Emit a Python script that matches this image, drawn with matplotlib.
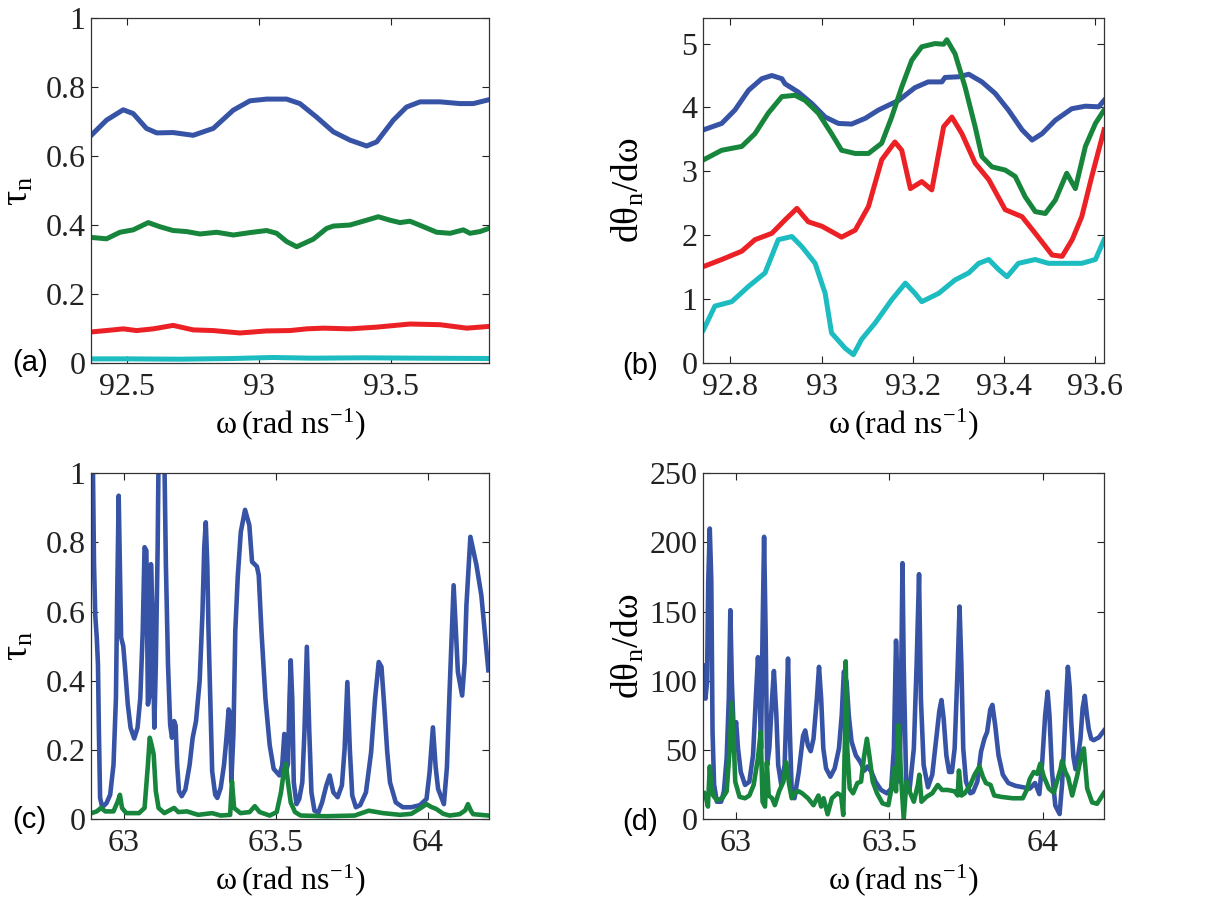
import numpy as np
import matplotlib
matplotlib.use('Agg')
import matplotlib.pyplot as plt
from matplotlib.ticker import FormatStrFormatter

plt.rcParams['font.family'] = ['Liberation Serif', 'DejaVu Serif']
plt.rcParams['mathtext.default'] = 'regular'
plt.rcParams['mathtext.fontset'] = 'custom'
plt.rcParams['mathtext.rm'] = 'Liberation Serif'

BLUE = '#3753a5'
GREEN = '#17853b'
RED = '#ec2125'
CYAN = '#1cbcc0'

# ---- panel (a): transmission eigenvalues near 93 rad/ns
a_blue_x = [92.365, 92.423, 92.486, 92.524, 92.574, 92.613, 92.675, 92.751, 92.827, 92.903, 92.966,
            93.029, 93.105, 93.155, 93.218, 93.282, 93.345, 93.408, 93.446, 93.509, 93.559, 93.610,
            93.686, 93.761, 93.812, 93.870]
a_blue_y = [0.660, 0.704, 0.734, 0.723, 0.680, 0.667, 0.668, 0.660, 0.680, 0.733, 0.760,
            0.765, 0.765, 0.752, 0.713, 0.670, 0.646, 0.629, 0.641, 0.704, 0.742, 0.757,
            0.757, 0.752, 0.752, 0.763]
a_green_x = [92.365, 92.423, 92.474, 92.524, 92.581, 92.625, 92.675, 92.726, 92.777, 92.840, 92.903,
             92.966, 93.029, 93.067, 93.105, 93.143, 93.206, 93.256, 93.282, 93.345, 93.408, 93.452,
             93.496, 93.534, 93.572, 93.623, 93.673, 93.724, 93.774, 93.799, 93.837, 93.870]
a_green_y = [0.364, 0.360, 0.379, 0.386, 0.407, 0.395, 0.384, 0.381, 0.374, 0.379, 0.371,
             0.378, 0.384, 0.376, 0.352, 0.337, 0.359, 0.390, 0.397, 0.400, 0.414, 0.424,
             0.414, 0.407, 0.411, 0.395, 0.379, 0.376, 0.386, 0.376, 0.381, 0.390]
a_red_x = [92.365, 92.448, 92.486, 92.537, 92.600, 92.675, 92.751, 92.827, 92.928, 93.029, 93.117,
           93.181, 93.244, 93.345, 93.446, 93.572, 93.686, 93.787, 93.870]
a_red_y = [0.090, 0.096, 0.099, 0.094, 0.099, 0.109, 0.096, 0.094, 0.087, 0.093, 0.094,
           0.099, 0.101, 0.099, 0.104, 0.113, 0.111, 0.101, 0.106]
a_cyan_x = [92.365, 92.5, 92.7, 92.9, 93.05, 93.2, 93.4, 93.6, 93.87]
a_cyan_y = [0.012, 0.012, 0.011, 0.013, 0.016, 0.014, 0.015, 0.014, 0.013]

# ---- panel (b): delay times near 93 rad/ns
b_blue_x = [92.741, 92.781, 92.810, 92.840, 92.869, 92.891, 92.913, 92.920, 92.949, 92.979, 93.008,
            93.037, 93.066, 93.096, 93.125, 93.169, 93.205, 93.234, 93.264, 93.271, 93.301, 93.323,
            93.352, 93.381, 93.410, 93.440, 93.462, 93.484, 93.513, 93.549, 93.579, 93.608, 93.620]
b_blue_y = [3.65, 3.75, 3.96, 4.27, 4.45, 4.50, 4.45, 4.37, 4.24, 4.06, 3.85,
            3.75, 3.74, 3.83, 3.96, 4.11, 4.31, 4.40, 4.40, 4.47, 4.48, 4.52,
            4.40, 4.22, 3.96, 3.65, 3.49, 3.59, 3.80, 3.98, 4.02, 4.01, 4.11]
b_green_x = [92.741, 92.781, 92.825, 92.854, 92.883, 92.913, 92.942, 92.964, 92.993, 93.022, 93.044,
             93.074, 93.103, 93.132, 93.154, 93.176, 93.198, 93.220, 93.249, 93.268, 93.275, 93.293,
             93.315, 93.337, 93.352, 93.374, 93.403, 93.425, 93.447, 93.469, 93.491, 93.513, 93.538,
             93.557, 93.579, 93.601, 93.620]
b_green_y = [3.18, 3.33, 3.39, 3.59, 3.91, 4.17, 4.19, 4.11, 3.91, 3.59, 3.33,
             3.28, 3.28, 3.44, 3.85, 4.32, 4.74, 4.95, 5.00, 4.99, 5.06, 4.84,
             4.32, 3.70, 3.23, 3.07, 3.02, 2.92, 2.60, 2.37, 2.34, 2.55, 2.97,
             2.73, 3.39, 3.75, 3.96]
b_red_x = [92.741, 92.781, 92.825, 92.854, 92.891, 92.920, 92.946, 92.971, 93.001, 93.044, 93.074,
           93.103, 93.132, 93.161, 93.176, 93.195, 93.220, 93.242, 93.268, 93.286, 93.308, 93.337,
           93.367, 93.403, 93.440, 93.469, 93.506, 93.528, 93.550, 93.571, 93.593, 93.620]
b_red_y = [1.51, 1.62, 1.75, 1.93, 2.03, 2.24, 2.42, 2.21, 2.14, 1.97, 2.08,
           2.45, 3.18, 3.46, 3.33, 2.73, 2.84, 2.71, 3.70, 3.85, 3.59, 3.13,
           2.87, 2.40, 2.29, 2.03, 1.69, 1.67, 1.93, 2.29, 2.92, 3.65]
b_cyan_x = [92.741, 92.766, 92.803, 92.840, 92.876, 92.905, 92.935, 92.957, 92.986, 93.008, 93.022,
            93.052, 93.070, 93.088, 93.118, 93.154, 93.184, 93.205, 93.220, 93.257, 93.293, 93.323,
            93.345, 93.367, 93.389, 93.407, 93.432, 93.469, 93.498, 93.535, 93.571, 93.601, 93.620]
b_cyan_y = [0.52, 0.89, 0.96, 1.20, 1.41, 1.93, 1.98, 1.82, 1.56, 1.09, 0.47,
            0.23, 0.13, 0.37, 0.63, 0.99, 1.25, 1.09, 0.96, 1.09, 1.30, 1.41,
            1.56, 1.62, 1.46, 1.35, 1.56, 1.62, 1.56, 1.56, 1.56, 1.62, 1.93]

# ---- panel (c): transmission eigenvalues near 63.5 rad/ns
c_blue_x = [62.899, 62.903, 62.907, 62.912, 62.916, 62.919, 62.923, 62.930, 62.944, 62.956, 62.967,
            62.975, 62.979, 62.984, 62.988, 62.992, 62.999, 63.004, 63.014, 63.023, 63.035, 63.046,
            63.055, 63.063, 63.069, 63.075, 63.080, 63.086, 63.090, 63.095, 63.101, 63.106, 63.112,
            63.115, 63.125, 63.134, 63.139, 63.146, 63.153, 63.159, 63.166, 63.171, 63.176, 63.182,
            63.191, 63.203, 63.217, 63.227, 63.238, 63.250, 63.259, 63.265, 63.270, 63.275, 63.279,
            63.286, 63.291, 63.301, 63.308, 63.319, 63.330, 63.338, 63.345, 63.350, 63.354, 63.361,
            63.367, 63.375, 63.385, 63.399, 63.413, 63.422, 63.438, 63.444, 63.453, 63.466, 63.480,
            63.493, 63.512, 63.521, 63.528, 63.533, 63.540, 63.545, 63.549, 63.554, 63.559, 63.568,
            63.577, 63.587, 63.594, 63.602, 63.610, 63.617, 63.627, 63.640, 63.652, 63.666, 63.677,
            63.689, 63.703, 63.717, 63.726, 63.735, 63.743, 63.751, 63.763, 63.777, 63.796, 63.813,
            63.826, 63.838, 63.847, 63.856, 63.866, 63.875, 63.894, 63.917, 63.945, 63.973, 63.995,
            64.005, 64.016, 64.025, 64.033, 64.052, 64.062, 64.071, 64.084, 64.091, 64.098, 64.112,
            64.120, 64.126, 64.139, 64.159, 64.175, 64.198]
c_blue_y = [1.05, 0.737, 0.59, 0.525, 0.447, 0.254, 0.061, 0.034, 0.046, 0.07, 0.157,
            0.35, 0.64, 0.935, 0.737, 0.525, 0.50, 0.447, 0.331, 0.264, 0.233, 0.264,
            0.35, 0.544, 0.786, 0.776, 0.331, 0.36, 0.737, 0.592, 0.264, 0.447, 0.786,
            1.05, 1.20, 1.05, 0.737, 0.447, 0.273, 0.235, 0.283, 0.27, 0.157, 0.080,
            0.066, 0.085, 0.157, 0.235, 0.283, 0.40, 0.592, 0.786, 0.858, 0.737, 0.544,
            0.302, 0.138, 0.07, 0.061, 0.09, 0.157, 0.235, 0.317, 0.305, 0.109, 0.25,
            0.544, 0.70, 0.83, 0.894, 0.85, 0.744, 0.73, 0.705, 0.541, 0.348, 0.213,
            0.145, 0.126, 0.155, 0.246, 0.135, 0.16, 0.348, 0.459, 0.348, 0.106, 0.043,
            0.058, 0.106, 0.251, 0.498, 0.251, 0.077, 0.024, 0.019, 0.048, 0.097, 0.126,
            0.077, 0.063, 0.097, 0.203, 0.396, 0.203, 0.068, 0.034, 0.04, 0.077, 0.193,
            0.348, 0.454, 0.44, 0.328, 0.193, 0.106, 0.048, 0.034, 0.034, 0.04, 0.058,
            0.135, 0.265, 0.15, 0.087, 0.043, 0.15, 0.377, 0.676, 0.55, 0.425, 0.357,
            0.45, 0.618, 0.816, 0.734, 0.647, 0.43]
c_green_x = [62.895, 62.912, 62.926, 62.940, 62.967, 62.981, 62.988, 62.995, 63.009, 63.051, 63.069,
             63.080, 63.086, 63.092, 63.099, 63.106, 63.115, 63.134, 63.166, 63.180, 63.208, 63.245,
             63.291, 63.319, 63.350, 63.356, 63.363, 63.384, 63.414, 63.431, 63.447, 63.480, 63.503,
             63.517, 63.526, 63.533, 63.540, 63.549, 63.563, 63.582, 63.666, 63.759, 63.805, 63.852,
             63.908, 63.945, 63.973, 63.995, 64.010, 64.027, 64.050, 64.071, 64.104, 64.122, 64.131,
             64.140, 64.148, 64.198]
c_green_y = [0.017, 0.022, 0.032, 0.022, 0.022, 0.051, 0.070, 0.032, 0.017, 0.017, 0.032,
             0.157, 0.235, 0.215, 0.186, 0.080, 0.032, 0.017, 0.032, 0.020, 0.022, 0.012,
             0.017, 0.010, 0.012, 0.109, 0.032, 0.017, 0.020, 0.037, 0.020, 0.010, 0.020,
             0.077, 0.135, 0.159, 0.106, 0.048, 0.020, 0.010, 0.008, 0.010, 0.024, 0.017,
             0.012, 0.015, 0.030, 0.043, 0.035, 0.029, 0.015, 0.010, 0.014, 0.025, 0.043,
             0.025, 0.014, 0.010]

# ---- panel (d): delay times near 63.5 rad/ns
d_blue_x = [62.896, 62.901, 62.906, 62.910, 62.915, 62.920, 62.924, 62.929, 62.938, 62.952, 62.961,
            62.970, 62.977, 62.982, 62.987, 62.993, 63.001, 63.007, 63.016, 63.030, 63.044, 63.056,
            63.065, 63.072, 63.078, 63.082, 63.087, 63.092, 63.097, 63.102, 63.109, 63.118, 63.124,
            63.132, 63.138, 63.148, 63.159, 63.166, 63.170, 63.176, 63.182, 63.191, 63.205, 63.219,
            63.226, 63.235, 63.244, 63.253, 63.264, 63.271, 63.278, 63.285, 63.294, 63.308, 63.322,
            63.336, 63.345, 63.352, 63.361, 63.368, 63.377, 63.391, 63.405, 63.419, 63.429, 63.442,
            63.455, 63.473, 63.492, 63.506, 63.515, 63.522, 63.529, 63.534, 63.538, 63.543, 63.547,
            63.555, 63.566, 63.580, 63.589, 63.597, 63.603, 63.612, 63.626, 63.640, 63.653, 63.663,
            63.670, 63.677, 63.686, 63.695, 63.704, 63.713, 63.723, 63.729, 63.735, 63.741, 63.750,
            63.764, 63.773, 63.787, 63.799, 63.810, 63.819, 63.829, 63.836, 63.845, 63.856, 63.870,
            63.888, 63.911, 63.935, 63.958, 63.975, 63.989, 63.998, 64.008, 64.016, 64.022, 64.030,
            64.041, 64.055, 64.063, 64.068, 64.076, 64.082, 64.088, 64.093, 64.100, 64.107, 64.115,
            64.123, 64.130, 64.137, 64.144, 64.150, 64.158, 64.166, 64.183, 64.200]
d_blue_y = [111, 87, 99, 172, 210, 172, 63, 25, 12.5, 12.5, 20,
            44, 87, 151, 99, 63, 70, 51, 34, 24.6, 27, 46,
            87, 117, 87, 51, 135, 204, 135, 39, 51, 87, 107,
            75, 39, 24.6, 39, 87, 116, 63, 20, 15, 34, 60,
            64, 53, 49, 58, 87, 110, 87, 51, 36.6, 30.6, 36.6,
            51, 75, 106.6, 99, 75, 56, 46, 41.5, 35, 38, 34,
            27, 21, 18.6, 22, 51, 129, 87, 27, 87, 185, 111,
            27, 21, 51, 111, 177, 87, 39, 23, 32, 58, 78,
            86, 73, 46, 34, 34, 51, 111, 153.6, 111, 51, 27,
            18.6, 19.5, 27, 48.7, 58, 63, 79, 82.5, 68, 46, 32,
            26, 24, 23, 22, 26, 18, 40, 75, 92, 75, 35,
            9.7, 3.6, 25, 46, 85, 110, 95, 70, 45, 36, 45,
            58, 80, 89, 75, 65, 58, 57, 59, 64]
d_green_x = [62.897, 62.903, 62.909, 62.915, 62.920, 62.926, 62.938, 62.956, 62.970, 62.980, 62.986,
             62.992, 62.998, 63.012, 63.030, 63.044, 63.058, 63.072, 63.081, 63.087, 63.095, 63.101,
             63.107, 63.118, 63.127, 63.141, 63.155, 63.164, 63.174, 63.182, 63.191, 63.205, 63.216,
             63.235, 63.253, 63.269, 63.278, 63.286, 63.299, 63.313, 63.331, 63.343, 63.350, 63.356,
             63.358, 63.363, 63.371, 63.382, 63.396, 63.408, 63.417, 63.427, 63.435, 63.446, 63.460,
             63.478, 63.497, 63.509, 63.515, 63.522, 63.530, 63.538, 63.547, 63.556, 63.566, 63.580,
             63.593, 63.598, 63.605, 63.621, 63.640, 63.658, 63.672, 63.690, 63.713, 63.723, 63.727,
             63.735, 63.746, 63.764, 63.778, 63.794, 63.805, 63.815, 63.830, 63.842, 63.865, 63.902,
             63.935, 63.948, 63.958, 63.971, 63.982, 63.992, 64.003, 64.020, 64.036, 64.050, 64.058,
             64.063, 64.074, 64.083, 64.096, 64.112, 64.125, 64.134, 64.140, 64.145, 64.161, 64.177,
             64.200]
d_green_y = [18.6, 15, 9, 38, 24.6, 17, 13.7, 15, 20, 51, 84,
             63, 27, 16, 15, 17, 24.6, 44, 63, 12.5, 9, 41,
             17, 15, 10, 20, 27, 41, 24.6, 15, 18.6, 20, 18.6,
             15, 10, 17, 9, 15, 3.4, 15, 18.6, 17, 2.9, 63,
             114, 51, 22, 18.6, 26, 27, 44, 58, 46, 27, 18.6,
             11.3, 10, 24.6, 36.6, 20, 68, 32, 0, 27, 20, 12.5,
             24.6, 32, 12.5, 16, 18.6, 24.6, 21, 21, 20, 17, 35,
             17, 18.6, 24.6, 32, 38, 30.6, 26, 24.6, 17, 16, 15,
             15, 21, 29, 34, 32.6, 40, 31, 22, 19, 30, 36,
             42, 34, 30, 17, 31, 45, 51, 35, 22, 12, 11,
             19]

fig = plt.figure(figsize=(12.31, 9.10), dpi=100)
ax_a = fig.add_axes([0.0739, 0.6011, 0.3233, 0.3791])
ax_b = fig.add_axes([0.5711, 0.6011, 0.3258, 0.3791])
ax_c = fig.add_axes([0.0739, 0.1000, 0.3233, 0.3800])
ax_d = fig.add_axes([0.5711, 0.1000, 0.3258, 0.3800])

lw_top = 3.6
lw_bot = 3.3
ax_a.plot(a_blue_x, a_blue_y, color=BLUE, lw=lw_top)
ax_a.plot(a_green_x, a_green_y, color=GREEN, lw=lw_top)
ax_a.plot(a_red_x, a_red_y, color=RED, lw=lw_top)
ax_a.plot(a_cyan_x, a_cyan_y, color=CYAN, lw=lw_top)

ax_b.plot(b_blue_x, b_blue_y, color=BLUE, lw=lw_top)
ax_b.plot(b_green_x, b_green_y, color=GREEN, lw=lw_top)
ax_b.plot(b_red_x, b_red_y, color=RED, lw=lw_top)
ax_b.plot(b_cyan_x, b_cyan_y, color=CYAN, lw=lw_top)

ax_c.plot(c_blue_x, c_blue_y, color=BLUE, lw=lw_bot)
ax_c.plot(c_green_x, c_green_y, color=GREEN, lw=lw_bot)

ax_d.plot(d_blue_x, d_blue_y, color=BLUE, lw=lw_bot)
ax_d.plot(d_green_x, d_green_y, color=GREEN, lw=lw_bot)

ax_a.set_xlim(92.364, 93.871)
ax_a.set_ylim(0, 1)
ax_a.set_xticks([92.5, 93, 93.5])
ax_a.set_yticks([0, 0.2, 0.4, 0.6, 0.8, 1])

ax_b.set_xlim(92.74, 93.62)
ax_b.set_ylim(0, 5.4)
ax_b.set_xticks([92.8, 93, 93.2, 93.4, 93.6])
ax_b.set_yticks([0, 1, 2, 3, 4, 5])

ax_c.set_xlim(62.893, 64.2)
ax_c.set_ylim(0, 1)
ax_c.set_xticks([63, 63.5, 64])
ax_c.set_yticks([0, 0.2, 0.4, 0.6, 0.8, 1])

ax_d.set_xlim(62.893, 64.2)
ax_d.set_ylim(0, 250)
ax_d.set_xticks([63, 63.5, 64])
ax_d.set_yticks([0, 50, 100, 150, 200, 250])

xlab = r'$\omega\,$(rad ns$^{-1}$)'
tau_lab = r'$\tau_{n}$'
dth_lab = r'd$\theta_{n}$/d$\omega$'

for ax, ylab in [(ax_a, tau_lab), (ax_b, dth_lab), (ax_c, tau_lab), (ax_d, dth_lab)]:
    ax.xaxis.set_major_formatter(FormatStrFormatter('%g'))
    ax.yaxis.set_major_formatter(FormatStrFormatter('%g'))
    ax.tick_params(direction='in', top=True, right=True, length=5, width=0.8,
                   labelsize=23, colors='#222222')
    ax.tick_params(axis='x', pad=7)
    ax.tick_params(axis='y', pad=4)
    for lbl in ax.get_xticklabels() + ax.get_yticklabels():
        lbl.set_fontfamily('Liberation Serif')
    for s in ax.spines.values():
        s.set_linewidth(0.9)
        s.set_color('#333333')
    ax.set_xlabel(xlab, fontsize=23, labelpad=3)
    ax.set_ylabel(ylab, fontsize=27)

ax_a.yaxis.set_label_coords(-0.14, 0.5)
ax_c.yaxis.set_label_coords(-0.14, 0.5)
ax_b.yaxis.set_label_coords(-0.14, 0.5)
ax_d.yaxis.set_label_coords(-0.14, 0.5)

# panel letters
for lab, px, py in [('(a)', 12, 363), ('(b)', 622, 366), ('(c)', 12, 820), ('(d)', 622, 822)]:
    fig.text(px / 1231, 1 - py / 910, lab, fontsize=21, family='Liberation Sans',
             ha='left', va='center')

fig.savefig('out.png', dpi=100)
